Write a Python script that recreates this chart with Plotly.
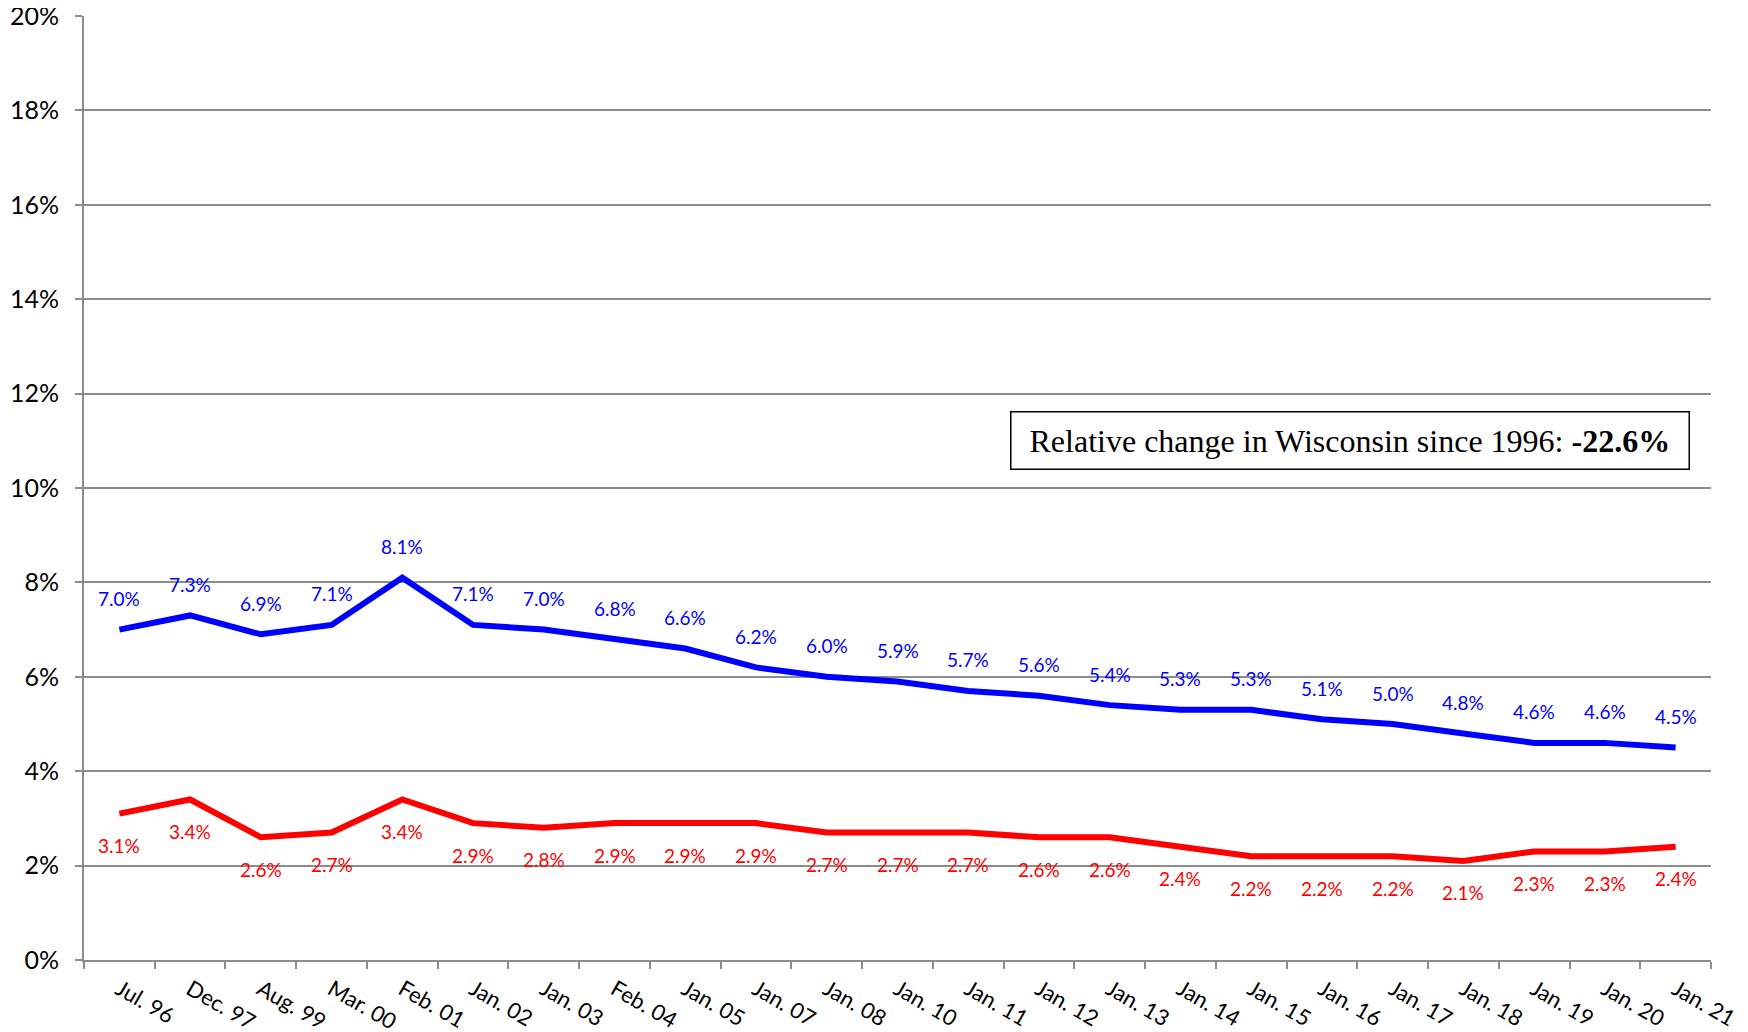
import plotly.graph_objects as go

periods = ["Jul. 96", "Dec. 97", "Aug. 99", "Mar. 00", "Feb. 01", "Jan. 02", "Jan. 03",
           "Feb. 04", "Jan. 05", "Jan. 07", "Jan. 08", "Jan. 10", "Jan. 11", "Jan. 12",
           "Jan. 13", "Jan. 14", "Jan. 15", "Jan. 16", "Jan. 17", "Jan. 18", "Jan. 19",
           "Jan. 20", "Jan. 21"]
blue_values = [7.0, 7.3, 6.9, 7.1, 8.1, 7.1, 7.0, 6.8, 6.6, 6.2, 6.0, 5.9, 5.7, 5.6,
               5.4, 5.3, 5.3, 5.1, 5.0, 4.8, 4.6, 4.6, 4.5]
red_values = [3.1, 3.4, 2.6, 2.7, 3.4, 2.9, 2.8, 2.9, 2.9, 2.9, 2.7, 2.7, 2.7, 2.6,
              2.6, 2.4, 2.2, 2.2, 2.2, 2.1, 2.3, 2.3, 2.4]
y_ticks = [0, 2, 4, 6, 8, 10, 12, 14, 16, 18, 20]
note_text = "&nbsp;Relative change in Wisconsin since 1996: <b>-22.6%</b>&nbsp;"

LABEL_FONT = "Lato, 'Open Sans', sans-serif"
BLUE = "#0000ff"
RED = "#ff0000"
GRID = "#8c8c8c"

fig = go.Figure()

fig.add_trace(go.Scatter(x=periods, y=blue_values, mode="lines",
                         line=dict(color=BLUE, width=6), showlegend=False))
fig.add_trace(go.Scatter(x=periods, y=red_values, mode="lines",
                         line=dict(color=RED, width=6), showlegend=False))

# data labels: blue above the line, red below
for p, v in zip(periods, blue_values):
    fig.add_annotation(x=p, y=v, text=f"{v:.1f}%", showarrow=False, yshift=31,
                       font=dict(family=LABEL_FONT, size=19, color=BLUE))
for p, v in zip(periods, red_values):
    fig.add_annotation(x=p, y=v, text=f"{v:.1f}%", showarrow=False, yshift=-32,
                       font=dict(family=LABEL_FONT, size=19, color=RED))

fig.add_annotation(xref="paper", yref="y", x=0.778, y=11.0, xanchor="center", yanchor="middle",
                   text=note_text, showarrow=False,
                   font=dict(family="Liberation Serif, serif", size=32, color="black"),
                   bordercolor="black", borderwidth=1.5, borderpad=10, bgcolor="white")

# margins allow for the 8px page margin around the plot div
fig.update_layout(
    width=1748, height=1032,
    margin=dict(l=76, r=45, t=8, b=80),
    paper_bgcolor="white", plot_bgcolor="white",
    font=dict(family=LABEL_FONT, color="black"),
    xaxis=dict(
        range=[-0.5, len(periods) - 0.5],
        tickangle=30, tickfont=dict(size=22), automargin=False, ticklabelstandoff=6,
        showgrid=False, showline=True, linecolor=GRID, linewidth=2,
        ticks="outside", tickson="boundaries", ticklen=7, tickcolor=GRID, tickwidth=2,
    ),
    yaxis=dict(
        range=[0, 20], tickvals=y_ticks, ticktext=[f"{t}%" for t in y_ticks],
        tickfont=dict(size=25), automargin=False, ticklabeloverflow="allow",
        ticklabelstandoff=11,
        showgrid=True, gridcolor=GRID, gridwidth=2,
        showline=True, linecolor=GRID, linewidth=2, zeroline=False,
        ticks="outside", ticklen=7, tickcolor=GRID, tickwidth=2,
    ),
)

fig.write_html("out.html")
